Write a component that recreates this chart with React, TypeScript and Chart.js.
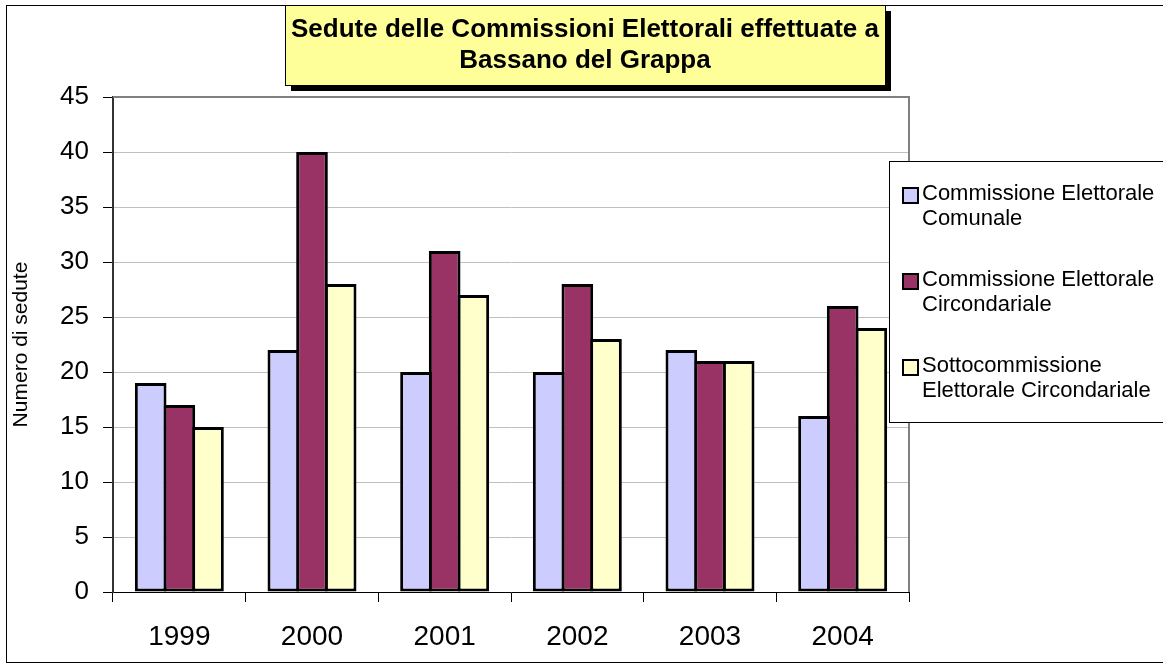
import React, { useEffect, useRef } from "react";
import { Chart, registerables } from "chart.js";

Chart.register(...registerables);

const categories = ["1999", "2000", "2001", "2002", "2003", "2004"];
const comunale = [19, 22, 20, 20, 22, 16];
const circondariale = [17, 40, 31, 28, 21, 26];
const sottocommissione = [15, 28, 27, 23, 21, 24];
const seriesLabels = [
  "Commissione Elettorale Comunale",
  "Commissione Elettorale Circondariale",
  "Sottocommissione Elettorale Circondariale",
];
const legendLines = [
  ["Commissione Elettorale", "Comunale"],
  ["Commissione Elettorale", "Circondariale"],
  ["Sottocommissione", "Elettorale Circondariale"],
];
const seriesColors = ["#CCCCFF", "#993366", "#FFFFCC"];
const titleLines = ["Sedute delle Commissioni Elettorali effettuate a", "Bassano del Grappa"];
const yAxisTitle = "Numero di sedute";
const yMin = 0;
const yMax = 45;
const yStep = 5;

const FONT = "'Liberation Sans', Arial, sans-serif";

const decorPlugin = {
  id: "decor",
  beforeDraw(chart: any) {
    const ctx = chart.ctx;
    ctx.save();
    ctx.fillStyle = "#ffffff";
    ctx.fillRect(0, 0, chart.width, chart.height);
    ctx.strokeStyle = "#000000";
    ctx.lineWidth = 1;
    ctx.strokeRect(6.5, 5.5, chart.width + 20, 657);
    ctx.restore();
  },
  beforeDatasetsDraw(chart: any) {
    const { ctx, chartArea } = chart;
    const { left, top, right, bottom } = chartArea;
    ctx.save();
    ctx.strokeStyle = "#808080";
    ctx.lineWidth = 2;
    ctx.beginPath();
    ctx.moveTo(left, top);
    ctx.lineTo(right, top);
    ctx.lineTo(right, bottom);
    ctx.stroke();
    ctx.restore();
  },
  afterDraw(chart: any) {
    const ctx = chart.ctx;
    ctx.save();
    // Title box with shadow
    const bx = 285, by = 5, bw = 600, bh = 80;
    ctx.fillStyle = "#000000";
    ctx.fillRect(bx + 6, by + 6, bw, bh);
    ctx.fillStyle = "#FFFF99";
    ctx.fillRect(bx, by, bw, bh);
    ctx.strokeStyle = "#000000";
    ctx.lineWidth = 1;
    ctx.strokeRect(bx + 0.5, by + 0.5, bw, bh);
    ctx.fillStyle = "#000000";
    ctx.font = `bold 26px ${FONT}`;
    ctx.textAlign = "center";
    ctx.textBaseline = "alphabetic";
    ctx.fillText(titleLines[0], bx + bw / 2, 37);
    ctx.fillText(titleLines[1], bx + bw / 2, 68);

    // Legend
    const lx = 889, ly = 161, lh = 261;
    ctx.fillStyle = "#ffffff";
    ctx.fillRect(lx, ly, chart.width - lx + 10, lh);
    ctx.strokeStyle = "#000000";
    ctx.lineWidth = 1;
    ctx.strokeRect(lx + 0.5, ly + 0.5, chart.width - lx + 10, lh);
    ctx.font = `22px ${FONT}`;
    ctx.textAlign = "left";
    const datasets = chart.data.datasets;
    for (let i = 0; i < datasets.length; i++) {
      const sy = 188 + 86 * i;
      ctx.fillStyle = datasets[i].backgroundColor;
      ctx.fillRect(903, sy, 15, 15);
      ctx.strokeStyle = "#000000";
      ctx.lineWidth = 2;
      ctx.strokeRect(903, sy, 15, 15);
      ctx.fillStyle = "#000000";
      const lines = legendLines[i];
      for (let j = 0; j < lines.length; j++) {
        ctx.fillText(lines[j], 922, 200 + 86 * i + 25 * j);
      }
    }
    ctx.restore();
  },
};

export default function App() {
  const ref = useRef<HTMLCanvasElement>(null);

  useEffect(() => {
    if (!ref.current) return;
    const seriesData = [comunale, circondariale, sottocommissione];
    const chart = new Chart(ref.current, {
      type: "bar",
      data: {
        labels: categories,
        datasets: seriesData.map((d, i) => ({
          label: seriesLabels[i],
          data: d,
          backgroundColor: seriesColors[i],
          borderColor: "#000000",
          borderWidth: 3,
          borderSkipped: false,
          barPercentage: 1.105,
          categoryPercentage: 0.648,
        })),
      },
      options: {
        responsive: false,
        animation: false,
        devicePixelRatio: 1,
        layout: { padding: { left: 0, top: 97, right: 254, bottom: 0 } },
        plugins: {
          legend: { display: false },
          title: { display: false },
          tooltip: { enabled: false },
        },
        scales: {
          x: {
            afterFit: (scale: any) => {
              scale.height = 72;
            },
            grid: {
              offset: true,
              drawOnChartArea: false,
              drawTicks: true,
              tickLength: 10,
              tickColor: "#000000",
            },
            border: { color: "#000000", width: 1 },
            ticks: {
              color: "#000000",
              font: { family: FONT, size: 28 },
              padding: 18,
              maxRotation: 0,
            },
          },
          y: {
            min: yMin,
            max: yMax,
            afterFit: (scale: any) => {
              scale.width = 113;
            },
            grid: {
              color: "#c0c0c0",
              tickColor: "#000000",
              tickLength: 10,
              drawTicks: true,
            },
            border: { color: "#333333", width: 2 },
            ticks: {
              stepSize: yStep,
              color: "#000000",
              font: { family: FONT, size: 26 },
              padding: 14,
            },
            title: {
              display: true,
              text: yAxisTitle,
              color: "#000000",
              font: { family: FONT, size: 21 },
              padding: { top: 9, bottom: 0 },
            },
          },
        },
      },
      plugins: [decorPlugin],
    });
    return () => chart.destroy();
  }, []);

  return (
    <div style={{ position: "absolute", left: 0, top: 0, width: 1163, height: 664 }}>
      <canvas ref={ref} width={1163} height={664} style={{ display: "block" }} />
    </div>
  );
}
